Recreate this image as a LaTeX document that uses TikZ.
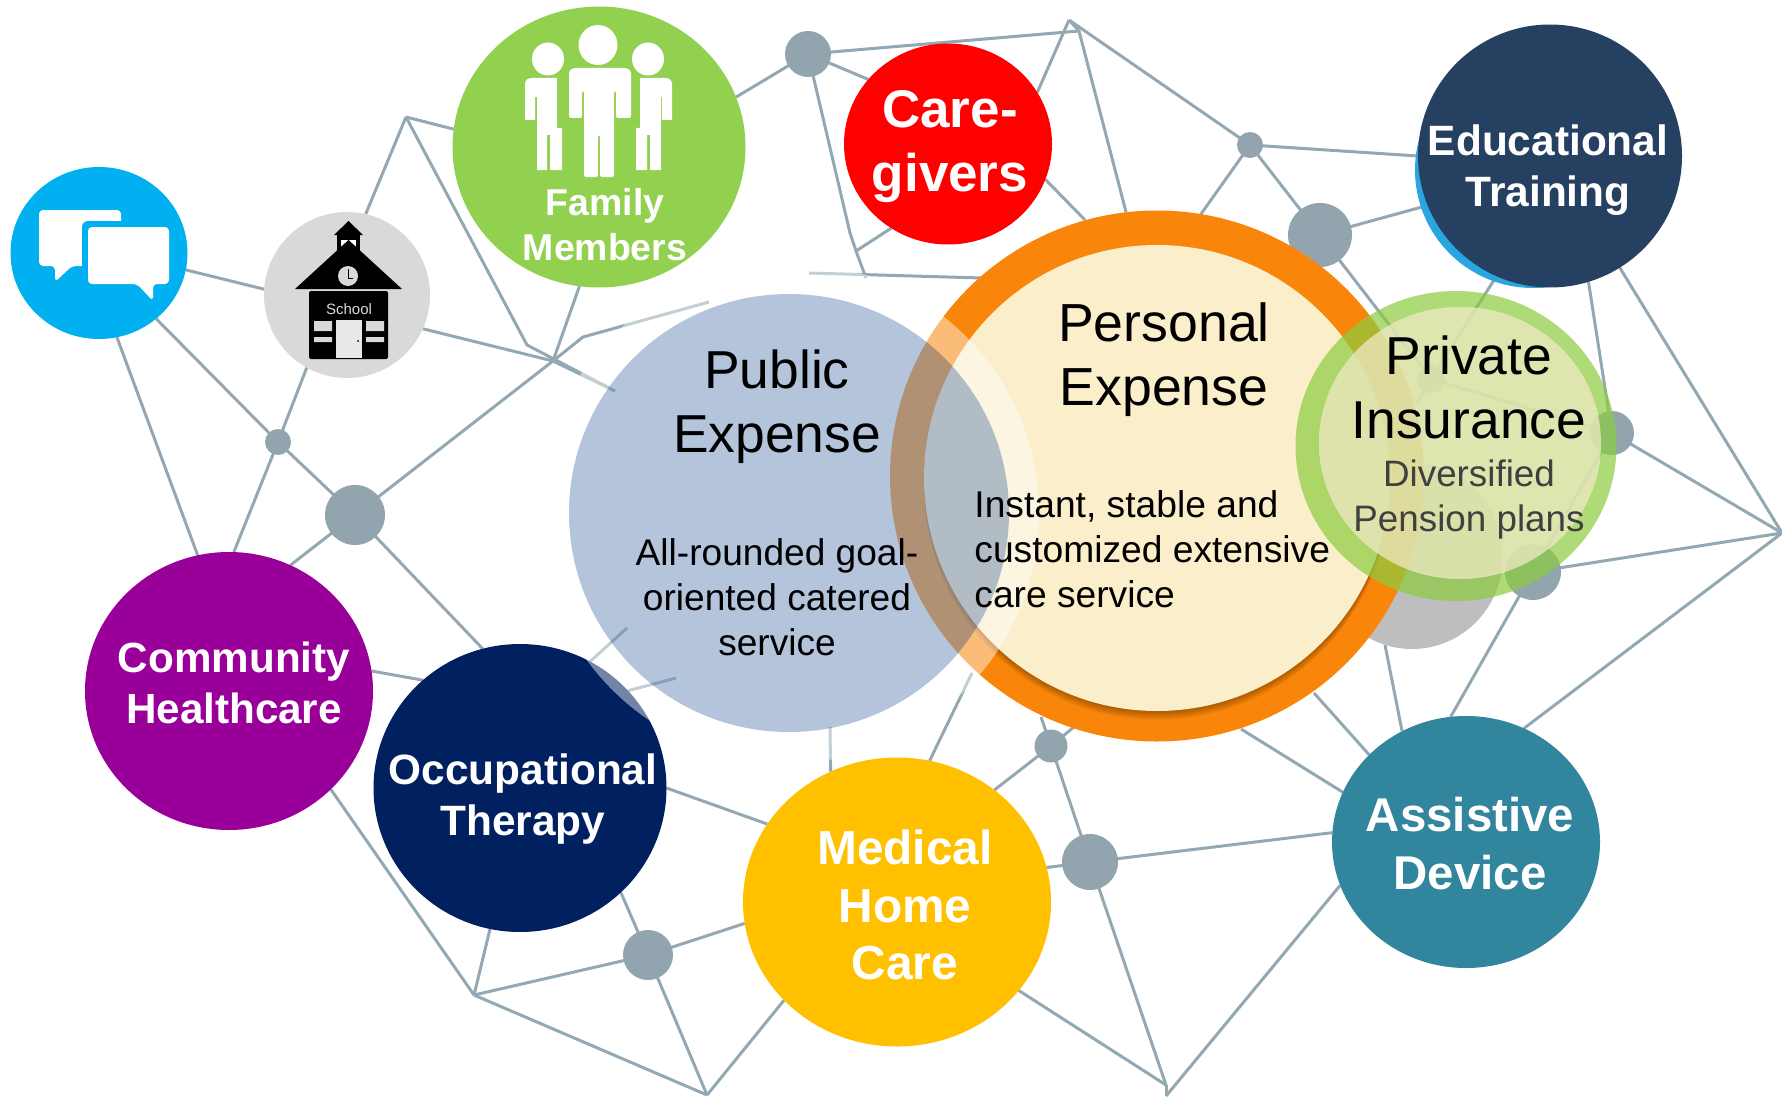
\documentclass[tikz,border=0pt]{standalone}
\usepackage{fontspec}
\setmainfont{Liberation Sans}
\usetikzlibrary{shapes.geometric}
\definecolor{linecol}{HTML}{94A8B3}
\definecolor{hubcol}{HTML}{92A5AF}
\definecolor{chatcol}{HTML}{00B0F0}
\definecolor{schoolcol}{HTML}{D9D9D9}
\definecolor{famcol}{HTML}{92D050}
\definecolor{carecol}{HTML}{FF0000}
\definecolor{educol}{HTML}{264061}
\definecolor{edublue}{HTML}{29A6E0}
\definecolor{commcol}{HTML}{990099}
\definecolor{occcol}{HTML}{002060}
\definecolor{medcol}{HTML}{FFC000}
\definecolor{asscol}{HTML}{31859C}
\definecolor{orangecol}{HTML}{F9860B}
\definecolor{creamcol}{HTML}{FBEECB}
\definecolor{pubcol}{HTML}{7E99C1}
\definecolor{ringgreen}{HTML}{8BCC3E}
\definecolor{innergreen}{HTML}{DCE3A9}
\definecolor{graydisc}{HTML}{BEBEBE}
\definecolor{subgray}{HTML}{404040}
\pgfdeclarelayer{bg}
\pgfsetlayers{bg,main}
\tikzset{
  blob/.style n args={3}{ellipse,inner sep=0pt,outer sep=0pt,draw=none,fill=#1,minimum width=#2*0.5pt,minimum height=#3*0.5pt},
  hub/.style={circle,inner sep=0pt,outer sep=0pt,draw=none,fill=hubcol,minimum size=#1*0.5pt},
  link/.style={draw=linecol,line width=1.5pt,line join=round},
  boldw/.style n args={2}{text=white,align=center,inner sep=0pt,font=\fontsize{#1}{#2}\selectfont\bfseries},
  plain/.style n args={2}{text=black,align=center,inner sep=0pt,font=\fontsize{#1}{#2}\selectfont},
  iconw/.style={fill=white,draw=none},
  iconk/.style={fill=black,draw=none},
}
\begin{document}
\begin{tikzpicture}[x=0.5pt,y=-0.5pt]
\useasboundingbox (0,0) rectangle (1782,1097);
% free ends
\coordinate (A) at (406,117);
\coordinate (B) at (553,361);
\coordinate (C) at (527,345);
\coordinate (D) at (583,337);
\coordinate (E) at (615,391);
\coordinate (F) at (709,302);
\coordinate (P) at (474,995);
\coordinate (Q) at (707,1095);
\coordinate (R) at (1166,1085);
\coordinate (Rb) at (1166,1096);
\coordinate (S) at (1782,533);
\coordinate (T) at (1069,20);
\coordinate (Tb) at (1079,31);
\coordinate (U) at (850,233);
\coordinate (Ub) at (856,251);
\coordinate (V) at (866,278);
\coordinate (W) at (809,273);
\coordinate (Y) at (982,278);
\coordinate (G) at (830,727);
\coordinate (Ha) at (627,628);
\coordinate (Hb) at (676,678);
\coordinate (I) at (972,673);
\coordinate (J) at (1075,726);
\coordinate (K) at (1041,717);
\coordinate (La) at (1241,729);
\coordinate (Lb) at (1314,693);
\coordinate (Lc) at (1385,645);
\coordinate (M) at (1201,214);
\coordinate (N) at (1126,212);
\coordinate (O) at (1085,220);
\coordinate (Z) at (1417,402);
% hubs
\node[hub=46] (n1) at (808,54) {};
\node[hub=26] (n2) at (1250,145) {};
\node[hub=64] (n3) at (1320,235) {};
\node[hub=26] (n4) at (278,442) {};
\node[hub=60] (n5) at (355,515) {};
\node[hub=50] (n6) at (648,955) {};
\node[hub=33] (n7) at (1051,746) {};
\node[hub=56] (n8) at (1090,862) {};
\node[hub=56] (n9) at (1533,572) {};
\node[hub=44] (n10) at (1612,433) {};
\node[hub=28] (n11) at (1431,379) {};
% bubbles
\node[blob={chatcol}{177}{172}] (chat) at (99,253) {};
\node[blob={schoolcol}{166}{166}] (school) at (347,295) {};
\node[blob={famcol}{293}{281}] (fam) at (599,147) {};
\node[blob={carecol}{208}{201}] (care) at (948,144) {};
\node[blob={edublue}{236}{236}] (edub) at (1533,170) {};
\node[blob={educol}{264}{263}] (edu) at (1550,156) {};
\node[blob={commcol}{288}{278}] (comm) at (229,691) {};
\node[blob={occcol}{293}{288}] (occ) at (520,788) {};
\node[blob={medcol}{308}{289}] (med) at (897,902) {};
\node[blob={asscol}{268}{252}] (assist) at (1466,842) {};
\node[blob={graydisc}{182}{186}] (gdisc) at (1412,556) {};
% personal
\node[blob={orangecol}{534}{531}] (pers) at (1157,476) {};
\begin{scope}
\clip (1157,476) ellipse [x radius=267,y radius=265.5];
\foreach \d in {1,2,...,9} {\fill[black,opacity=0.035] (1157,478+\d) ellipse [x radius=233,y radius=233];}
\end{scope}
\node[blob={creamcol}{466}{466}] (persin) at (1157,478) {};
% public: pale outer band, then translucent disc
\fill[white,opacity=0.45,even odd rule] (789,513) ellipse [x radius=250,y radius=250] (789,513) ellipse [x radius=220,y radius=219];
\node[blob={pubcol}{440}{438},fill opacity=0.58] (pub) at (789,513) {};
% private
\fill[ringgreen,opacity=0.7,even odd rule] (1456,446) ellipse [x radius=160.5,y radius=155] (1460,443) ellipse [x radius=141,y radius=136];
\node[blob={innergreen}{282}{272},fill opacity=0.93] (privin) at (1460,443) {};
% connectors
\begin{pgfonlayer}{bg}
\draw[link] (chat.-11) -- (school.176.5);
\draw[link] (chat.-49) -- (n4.center);
\draw[link] (chat.-78.6) -- (comm.103);
\draw[link] (school.77) -- (A);
\draw[link] (school.-24) -- (B) -- (E);
\draw[link] (school.-119) -- (n4.center);
\draw[link] (A) -- (fam.173);
\draw[link] (A) -- (C) -- (E);
\draw[link] (fam.-98) -- (B);
\draw[link] (n5.center) -- (B) -- (D) -- (F);
\draw[link] (n4.center) -- (comm.88);
\draw[link] (n4.center) -- (n5.center);
\draw[link] (n5.center) -- (comm.64);
\draw[link] (n5.center) -- (occ.105);
\draw[link] (comm.8) -- (occ.132);
\draw[link] (comm.-44) -- (P);
\draw[link] (P) -- (occ.-102);
\draw[link] (P) -- (n6.center);
\draw[link] (P) -- (Q);
\draw[link] (n6.center) -- (Q);
\draw[link] (Q) -- (med.-139);
\draw[link] (occ.-46) -- (n6.center);
\draw[link] (n6.center) -- (med.-172);
\draw[link] (occ.0) -- (med.149);
\draw[link] (G) -- (med.117);
\draw[link] (occ.61) -- (Ha);
\draw[link] (occ.42) -- (Hb);
\draw[link] (med.77) -- (I);
\draw[link] (n7.center) -- (med.49);
\draw[link] (n7.center) -- (J);
\draw[link] (n7.center) -- (K);
\draw[link] (n7.center) -- (n8.center);
\draw[link] (n8.center) -- (med.13);
\draw[link] (n8.center) -- (assist.176);
\draw[link] (n8.center) -- (R);
\draw[link] (med.-36) -- (R);
\draw[link] (R) -- (Rb);
\draw[link] (assist.-161) -- (Rb);
\draw[link] (La) -- (assist.158);
\draw[link] (Lb) -- (assist.138);
\draw[link] (Lc) -- (assist.120);
\draw[link] (n9.center) -- (assist.97);
\draw[link] (assist.63) -- (S);
\draw[link] (n9.center) -- (S);
\draw[link] (n10.center) -- (S);
\draw[link] (edu.-58) -- (S);
\draw[link] (edu.-73.5) -- (n10.center);
\draw[link] (edu.-158) -- (n3.center);
\draw[link] (edu.180) -- (n2.center);
\draw[link] (n2.center) -- (n3.center);
\draw[link] (n2.center) -- (M);
\draw[link] (T) -- (n2.center);
\draw[link] (n1.center) -- (Tb);
\draw[link] (T) -- (care.30);
\draw[link] (T) -- (Tb) -- (N);
\draw[link] (n1.center) -- (care.141);
\draw[link] (n1.center) -- (U) -- (Ub) -- (V);
\draw[link] (Ub) -- (care.-124);
\draw[link] (care.-20) -- (O);
\draw[link] (W) -- (Y);
\draw[link] (fam.20) -- (n1.center);
\draw[link] (n3.center) -- (n11.center) -- (n10.center);
\draw[link] (edu.-114) -- (n11.center);
\draw[link] (n10.center) -- (n9.center);
\draw[link] (n11.center) -- (Z);
\end{pgfonlayer}
% chat icon
\fill[iconw,rounded corners=2pt] (39,210) -- (121,210) -- (121,266) -- (72,266) -- (55,282) -- (55,266) -- (39,266) -- cycle;
\fill[chatcol,rounded corners=3pt] (82,221) -- (175,221) -- (175,290) -- (82,290) -- cycle;
\fill[iconw,rounded corners=2pt] (88,227) -- (169,227) -- (169,284) -- (153,284) -- (153,301) -- (137,284) -- (88,284) -- cycle;
% school icon
\fill[iconk] (334,235) -- (348.5,221) -- (363,235) -- cycle;
\fill[iconk] (337,235) rectangle (360,258);
\fill[iconw] (341,240) rectangle (356,256);
\fill[iconk] (343,254) -- (343.5,246) arc[start angle=180,end angle=0,x radius=5,y radius=4] -- (354,254) -- cycle;
\fill[iconk] (295,289) -- (348.5,240) -- (402,289) -- cycle;
\fill[iconk,rounded corners=1pt] (309,291) rectangle (388,359);
\fill[schoolcol] (348,276) ellipse [x radius=10,y radius=10];
\draw[black,line width=0.5pt] (348,269) -- (348,278) -- (353,278);
\node[text=schoolcol,inner sep=0pt,font=\fontsize{7.5}{9}\selectfont] (schooltxt) at (349,309) {School};
\fill[schoolcol!60!white] (336,320) rectangle (362,358);
\fill[schoolcol] (314,321) rectangle (332,331) (314,337) rectangle (332,342) (366,321) rectangle (384,331) (366,337) rectangle (384,342);
\fill[black] (358,341) ellipse [x radius=1,y radius=1];
% people icon
\fill[iconw] (598,45) ellipse [x radius=19.5,y radius=20];
\fill[iconw] (548,59) ellipse [x radius=16,y radius=16.5];
\fill[iconw] (648,59) ellipse [x radius=16,y radius=16.5];
\fill[iconw,rounded corners=1pt] (569,118) -- (569,75) .. controls (569,70) and (573,68) .. (578,68) -- (622,68) .. controls (627,68) and (631,70) .. (631,75) -- (631,118) -- (616,118) -- (616,91) -- (614,91) -- (614,177) -- (600,177) -- (600,135) -- (598,135) -- (598,177) -- (584,177) -- (584,91) -- (582,91) -- (582,118) -- cycle;
\fill[iconw] (525,120) -- (525,84) .. controls (525,80) and (528,78) .. (532,78) -- (557,78) -- (557,128) -- (562,128) -- (562,170) -- (550,170) -- (550,135) -- (547,135) -- (547,170) -- (537,170) -- (537,97) -- (535,97) -- (535,120) -- cycle;
\fill[iconw] (672,120) -- (672,84) .. controls (672,80) and (669,78) .. (665,78) -- (640,78) -- (640,128) -- (636,128) -- (636,170) -- (647,170) -- (647,135) -- (650,135) -- (650,170) -- (661,170) -- (661,97) -- (662,97) -- (662,120) -- cycle;
% labels
\node[boldw={18.7}{22.5}] (famtxt) at (605,225) {Family\\Members};
\node[boldw={26.5}{32}] (caretxt) at (950,147) {Care-\\givers};
\node[boldw={21.2}{25.5}] (edutxt) at (1548,170) {Educational\\Training};
\node[boldw={21.1}{25.5}] (commtxt) at (234,683) {Community\\Healthcare};
\node[boldw={21.2}{25.5}] (occtxt) at (523,799) {Occupational\\Therapy};
\node[boldw={23.9}{28.7}] (medtxt) at (905,905) {Medical\\Home\\Care};
\node[boldw={23.7}{29}] (asstxt) at (1470,844) {Assistive\\Device};
\node[plain={26.7}{32}] (pubtxt) at (777,407) {Public\\Expense};
\node[plain={18.55}{22.5}] (pubsub) at (777,597) {All-rounded goal-\\oriented catered\\service};
\node[plain={26.8}{32}] (perstxt) at (1164,360) {Personal\\Expense};
\node[plain={18.6}{22.5},align=left,anchor=west] (perssub) at (974,549) {Instant, stable and\\customized extensive\\care service};
\node[plain={26.7}{32}] (privtxt) at (1469,387) {Private\\Insurance};
\node[plain={18.4}{22.5},text=subgray] (privsub) at (1469,499) {Diversified\\Pension plans};
\end{tikzpicture}
\end{document}
